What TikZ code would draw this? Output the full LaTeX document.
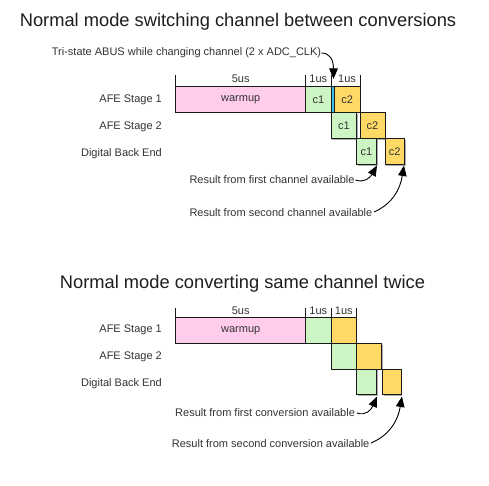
\documentclass[tikz,border=0pt]{standalone}
\usepackage{fontspec}
\setmainfont{Liberation Sans}
\usetikzlibrary{arrows.meta,shadows}
\definecolor{pinkf}{RGB}{255,204,236}
\definecolor{greenf}{RGB}{205,245,195}
\definecolor{orangef}{RGB}{255,217,102}
\definecolor{bluef}{RGB}{60,190,230}
\definecolor{txt}{RGB}{51,51,51}
\definecolor{ttl}{RGB}{30,30,30}
\begin{document}
\begin{tikzpicture}[x=1pt,y=-1pt,
  box/.style={draw=black!90,line width=0.9pt,inner sep=0pt,outer sep=0pt,anchor=north west,text=txt,font=\fontsize{11}{13}\selectfont},
  shad/.style={drop shadow={shadow xshift=1.3pt,shadow yshift=-1.3pt,opacity=0.45,fill=black!70}},
  lbl/.style={inner sep=0pt,text=txt,font=\fontsize{11}{13}\selectfont},
  ttlstyle/.style={inner sep=0pt,text=ttl,font=\fontsize{18.3}{21}\selectfont},
  tick/.style={draw=black!90,line width=0.9pt},
  arr/.style={draw=black,line width=0.9pt,-{Triangle[width=8.5pt,length=10.5pt]}}
]
\useasboundingbox (0,0) rectangle (489,486);
\fill[white] (0,0) rectangle (489,486);

% ---------------- Top diagram ----------------
\node[ttlstyle] (t1) at (238,22) {Normal mode switching channel between conversions};
\node[lbl,anchor=west] (tri) at (51.7,53) {Tri-state ABUS while changing channel (2 x ADC\_CLK)};

\node[lbl,anchor=east] (a1) at (162,99.5) {AFE Stage 1};
\node[lbl,anchor=east] (a2) at (162,127) {AFE Stage 2};
\node[lbl,anchor=east] (a3) at (162,154) {Digital Back End};

% ticks
\coordinate (k1t) at (175.7,75); \coordinate (k1b) at (175.7,86.7);
\coordinate (k2t) at (305.7,75); \coordinate (k2b) at (305.7,86.7);
\coordinate (k3t) at (331,75);   \coordinate (k3b) at (331,86.7);
\coordinate (k4t) at (360,75);   \coordinate (k4b) at (360,86.7);
\draw[tick] (k1t) -- (k1b); \draw[tick] (k2t) -- (k2b);
\draw[tick] (k3t) -- (k3b); \draw[tick] (k4t) -- (k4b);
\node[lbl] (u5) at (240.7,79) {5us};
\node[lbl] (u1a) at (318.3,79) {1us};
\node[lbl] (u1b) at (347,79) {1us};

% stage 1
\node[box,fill=pinkf,minimum width=130pt,minimum height=25.8pt] (w) at (175.7,86.7) {warmup};
\node[box,fill=greenf,minimum width=25.3pt,minimum height=25.8pt] (s1c1) at (305.7,86.7) {c1};
\node[box,fill=bluef,minimum width=3.3pt,minimum height=25.8pt] (s1b) at (331,86.7) {};
\node[box,fill=orangef,minimum width=25.7pt,minimum height=25.8pt] (s1c2) at (334.3,86.7) {c2};
% stage 2
\node[box,shad,fill=greenf,minimum width=25.7pt,minimum height=26pt] (s2c1) at (331,112.5) {c1};
\node[box,shad,fill=orangef,minimum width=25pt,minimum height=26pt] (s2c2) at (360,112.5) {c2};
% DBE
\node[box,shad,fill=greenf,minimum width=19.5pt,minimum height=26pt] (s3c1) at (356.7,138.5) {c1};
\node[box,shad,fill=orangef,minimum width=19.3pt,minimum height=26pt] (s3c2) at (385,138.5) {c2};

\coordinate (triend) at (321.5,53);
\coordinate (tritip) at (333.5,79);
\draw[arr] (triend) .. controls (330,53) and (333.5,60) .. (tritip);

\node[lbl,anchor=west] (r1) at (189.3,179.5) {Result from first channel available};
\node[lbl,anchor=west] (r2) at (189.3,213) {Result from second channel available};
\coordinate (r1s) at (355.5,180);
\coordinate (r1t) at (377,165.5);
\coordinate (r2s) at (374,212);
\coordinate (r2t) at (404,165.5);
\draw[arr] (r1s) .. controls (364,183) and (370,178) .. (r1t);
\draw[arr] (r2s) .. controls (392,204) and (400,190) .. (r2t);

% ---------------- Bottom diagram ----------------
\node[ttlstyle] (t2) at (242.5,284) {Normal mode converting same channel twice};

\node[lbl,anchor=east] (b1) at (162,329.5) {AFE Stage 1};
\node[lbl,anchor=east] (b2) at (162,357) {AFE Stage 2};
\node[lbl,anchor=east] (b3) at (162,383.5) {Digital Back End};

\coordinate (m1t) at (175.7,308.3); \coordinate (m1b) at (175.7,317.7);
\coordinate (m2t) at (305.7,308.3); \coordinate (m2b) at (305.7,317.7);
\coordinate (m3t) at (331,308.3);   \coordinate (m3b) at (331,317.7);
\coordinate (m4t) at (356.7,308.3); \coordinate (m4b) at (356.7,317.7);
\draw[tick] (m1t) -- (m1b); \draw[tick] (m2t) -- (m2b);
\draw[tick] (m3t) -- (m3b); \draw[tick] (m4t) -- (m4b);
\node[lbl] (v5) at (240.7,310.5) {5us};
\node[lbl] (v1a) at (318.3,310.5) {1us};
\node[lbl] (v1b) at (343.8,310.5) {1us};

\node[box,fill=pinkf,minimum width=130pt,minimum height=25.6pt] (bw) at (175.7,317.7) {warmup};
\node[box,fill=greenf,minimum width=25.3pt,minimum height=25.6pt] (bs1g) at (305.7,317.7) {};
\node[box,fill=orangef,minimum width=25.7pt,minimum height=25.6pt] (bs1o) at (331,317.7) {};
\node[box,shad,fill=greenf,minimum width=25.7pt,minimum height=25.8pt] (bs2g) at (331,343.3) {};
\node[box,shad,fill=orangef,minimum width=25pt,minimum height=25.8pt] (bs2o) at (356.7,343.3) {};
\node[box,shad,fill=greenf,minimum width=20pt,minimum height=25.8pt] (bs3g) at (356.7,369.1) {};
\node[box,shad,fill=orangef,minimum width=18.7pt,minimum height=25.8pt] (bs3o) at (382.3,369.1) {};

\node[lbl,anchor=west] (q1) at (175,412.7) {Result from first conversion available};
\node[lbl,anchor=west] (q2) at (171.7,444) {Result from second conversion available};
\coordinate (q1s) at (357,413);
\coordinate (q1t) at (377,396.5);
\coordinate (q2s) at (371,443);
\coordinate (q2t) at (402,396.5);
\draw[arr] (q1s) .. controls (366,416) and (371,410) .. (q1t);
\draw[arr] (q2s) .. controls (390,435) and (398,420) .. (q2t);
\end{tikzpicture}
\end{document}
